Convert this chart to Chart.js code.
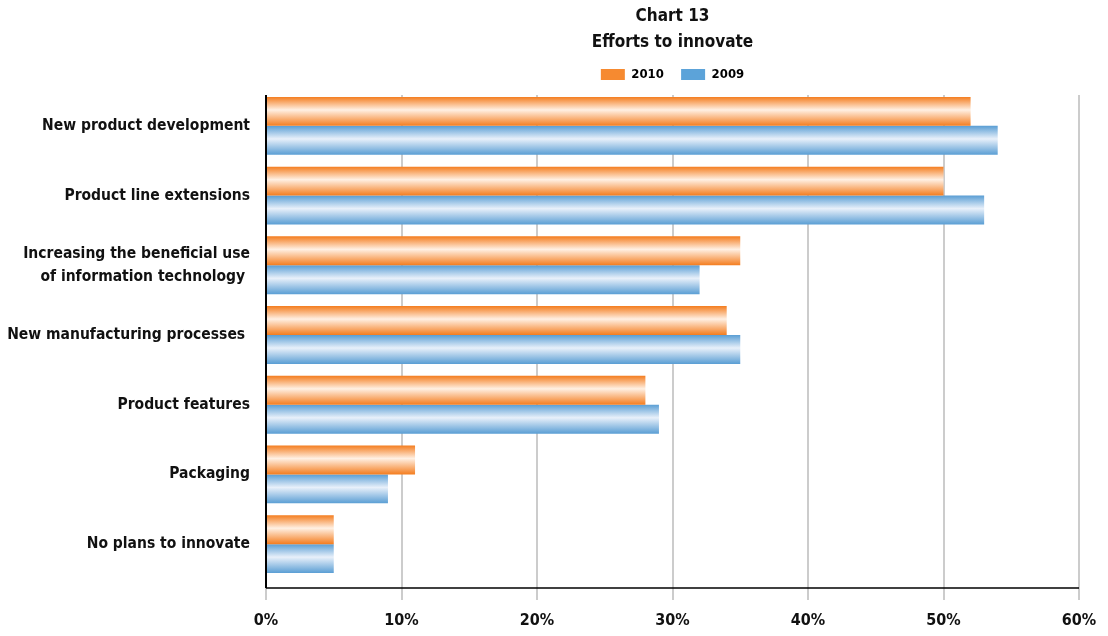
<!DOCTYPE html>
<html>
<head>
<meta charset="utf-8">
<script src="https://cdn.jsdelivr.net/npm/chart.js"></script>
<style>
  html, body { margin: 0; padding: 0; background: #fff; }
  #wrap { width: 1108px; height: 636px; }
</style>
</head>
<body>
<div id="wrap"><canvas id="graphe"></canvas></div>
<script>
const categories = [
  'New product development',
  'Product line extensions',
  ['Increasing the beneficial use', 'of information technology '],
  'New manufacturing processes ',
  'Product features',
  'Packaging',
  'No plans to innovate'
]
const val2010 = [52, 50, 35, 34, 28, 11, 5]
const val2009 = [54, 53, 32, 35, 29, 9, 5]
const xTicks = [0, 10, 20, 30, 40, 50, 60]

const police = "'Liberation Sans Narrow', 'DejaVu Sans Condensed', sans-serif"

// couleurs : bord foncé, milieu clair
const orange = { edge: '#f47d1f', mid: '#fff0e3', solid: '#f68a30' }
const bleu = { edge: '#5a9ed4', mid: '#e8f0fa', solid: '#5ca3d9' }

// dégradé "cylindre" sur chaque barre
const cylindre = {
  id: 'cylindre',
  beforeDatasetsDraw(chart) {
    const ctx = chart.ctx
    chart.data.datasets.forEach((ds, i) => {
      const c = i === 0 ? orange : bleu
      chart.getDatasetMeta(i).data.forEach(bar => {
        const haut = bar.y - bar.height / 2
        const bas = bar.y + bar.height / 2
        const g = ctx.createLinearGradient(0, haut, 0, bas)
        g.addColorStop(0, c.edge)
        g.addColorStop(0.45, c.mid)
        g.addColorStop(1, c.edge)
        bar.options = Object.assign({}, bar.options, { backgroundColor: g })
      })
    })
  }
}

// grille et axes dessinés à la main
const axes = {
  id: 'axes',
  beforeDatasetsDraw(chart) {
    const ctx = chart.ctx
    const x = chart.scales.x
    const a = chart.chartArea
    ctx.save()
    ctx.strokeStyle = '#cccccc'
    ctx.lineWidth = 2
    xTicks.forEach(t => {
      const px = Math.round(x.getPixelForValue(t))
      ctx.beginPath()
      ctx.moveTo(px, a.top + 4)
      ctx.lineTo(px, a.bottom + 21)
      ctx.stroke()
    })
    ctx.restore()
  },
  afterDatasetsDraw(chart) {
    const ctx = chart.ctx
    const x = chart.scales.x
    const a = chart.chartArea
    const x0 = x.getPixelForValue(0)
    ctx.save()
    ctx.strokeStyle = '#000'
    ctx.lineWidth = 2
    ctx.beginPath()
    ctx.moveTo(x0, a.top + 4)
    ctx.lineTo(x0, a.bottom + 9)
    ctx.stroke()
    ctx.lineWidth = 1.5
    ctx.beginPath()
    ctx.moveTo(x0, a.bottom + 9)
    ctx.lineTo(x.getPixelForValue(60), a.bottom + 9)
    ctx.stroke()
    ctx.restore()
  }
}

new Chart(document.getElementById('graphe'), {
  type: 'bar',
  data: {
    labels: categories,
    datasets: [
      { label: '2010', data: val2010, backgroundColor: orange.solid, borderWidth: 0 },
      { label: '2009', data: val2009, backgroundColor: bleu.solid, borderWidth: 0 }
    ]
  },
  options: {
    indexAxis: 'y',
    responsive: true,
    maintainAspectRatio: false,
    animation: false,
    categoryPercentage: 0.83,
    barPercentage: 1,
    layout: { padding: { left: 0, right: 0, top: 4, bottom: 0 } },
    plugins: {
      title: {
        display: true,
        fullSize: false,
        text: ['Chart 13', 'Efforts to innovate'],
        color: '#111',
        font: { family: police, size: 17, weight: 'bold', lineHeight: 1.5 },
        padding: { top: 0, bottom: 8 }
      },
      legend: {
        position: 'top',
        fullSize: false,
        labels: {
          color: '#111',
          boxWidth: 24,
          boxHeight: 11,
          padding: 5,
          font: { family: police, size: 13, weight: 'bold' },
          generateLabels: chart => chart.data.datasets.map((ds, i) => ({
            text: i === 0 ? ds.label + '   ' : ds.label,
            fillStyle: i === 0 ? orange.solid : bleu.solid,
            strokeStyle: 'transparent',
            lineWidth: 0,
            datasetIndex: i
          }))
        }
      },
      tooltip: { enabled: false }
    },
    scales: {
      x: {
        min: 0,
        max: 60,
        afterBuildTicks: s => { s.ticks = xTicks.map(v => ({ value: v })) },
        afterFit: s => { s.height = 57; s.paddingRight = 29 },
        grid: { display: false },
        border: { display: false },
        ticks: {
          padding: 24,
          color: '#111',
          font: { family: police, size: 16, weight: 'bold' },
          callback: v => v + '%'
        }
      },
      y: {
        afterFit: s => { s.width = 266 },
        grid: { display: false, drawTicks: false },
        border: { display: false },
        ticks: {
          padding: 16,
          color: '#111',
          font: { family: police, size: 15.5, weight: 'bold', lineHeight: 1.45 }
        }
      }
    }
  },
  plugins: [cylindre, axes]
})
</script>
</body>
</html>
